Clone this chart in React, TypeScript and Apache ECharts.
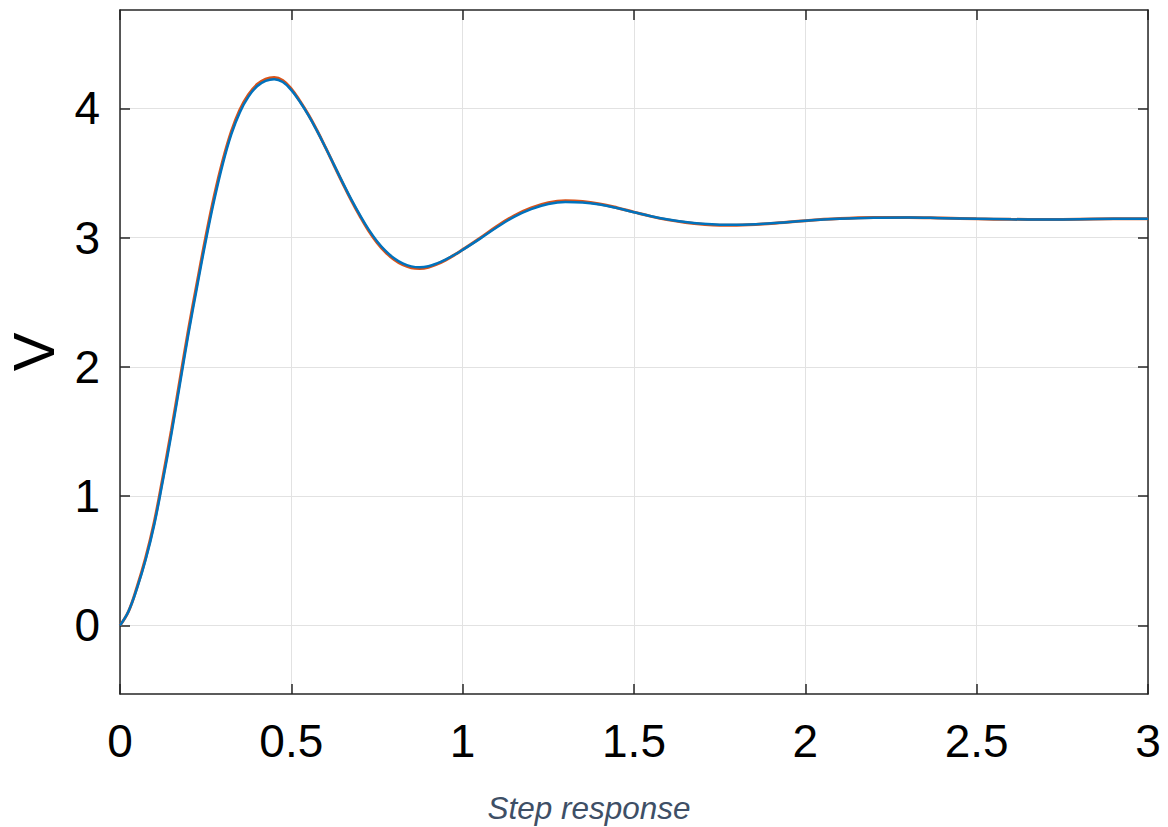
import React, { useEffect, useRef } from "react";
import * as echarts from "echarts";

const timeValues = [
  0, 0.025, 0.05, 0.075, 0.1, 0.125, 0.15, 0.175, 0.2, 0.225, 0.25, 0.275, 0.3,
  0.325, 0.35, 0.375, 0.4, 0.425, 0.45, 0.475, 0.5, 0.525, 0.55, 0.575, 0.6,
  0.625, 0.65, 0.675, 0.7, 0.725, 0.75, 0.775, 0.8, 0.825, 0.85, 0.875, 0.9,
  0.925, 0.95, 0.975, 1.0, 1.05, 1.1, 1.15, 1.2, 1.25, 1.3, 1.35, 1.4, 1.45,
  1.5, 1.55, 1.6, 1.65, 1.7, 1.75, 1.8, 1.9, 2.0, 2.1, 2.2, 2.3, 2.4, 2.5, 2.6,
  2.7, 2.8, 2.9, 3.0,
];

const blueValues = [
  0, 0.11, 0.29, 0.51, 0.78, 1.12, 1.48, 1.87, 2.26, 2.62, 2.97, 3.29, 3.57,
  3.8, 3.97, 4.09, 4.17, 4.212, 4.225, 4.203, 4.14, 4.05, 3.945, 3.825, 3.695,
  3.56, 3.425, 3.295, 3.175, 3.065, 2.972, 2.897, 2.84, 2.8, 2.777, 2.77, 2.778,
  2.8, 2.83, 2.865, 2.905, 2.99, 3.08, 3.16, 3.22, 3.26, 3.276, 3.272, 3.255,
  3.228, 3.196, 3.165, 3.14, 3.12, 3.107, 3.1, 3.099, 3.11, 3.13, 3.145, 3.153,
  3.155, 3.15, 3.145, 3.141, 3.14, 3.142, 3.145, 3.145,
];

const redValues = [
  0, 0.11, 0.3, 0.525, 0.8, 1.145, 1.51, 1.9, 2.29, 2.65, 3.0, 3.32, 3.595,
  3.82, 3.99, 4.105, 4.184, 4.226, 4.238, 4.215, 4.15, 4.056, 3.95, 3.828, 3.695,
  3.557, 3.42, 3.288, 3.166, 3.055, 2.962, 2.887, 2.83, 2.79, 2.767, 2.761, 2.77,
  2.794, 2.826, 2.864, 2.907, 2.995, 3.088, 3.169, 3.229, 3.269, 3.284, 3.279, 3.26,
  3.231, 3.197, 3.164, 3.137, 3.117, 3.103, 3.096, 3.096, 3.109, 3.131, 3.147, 3.155,
  3.156, 3.151, 3.145, 3.141, 3.14, 3.142, 3.145, 3.145,
];

const xTicks = [0, 0.5, 1, 1.5, 2, 2.5, 3];
const yTicks = [0, 1, 2, 3, 4];

const FONT = "'Liberation Sans', Arial, Helvetica, sans-serif";
const AXIS_COLOR = "#262626";

export default function App() {
  const ref = useRef<HTMLDivElement>(null);

  useEffect(() => {
    if (!ref.current) return;
    const chart = echarts.init(ref.current, undefined, { renderer: "svg" });

    const blueData = timeValues.map((t, i) => [t, blueValues[i]]);
    const redData = timeValues.map((t, i) => [t, redValues[i]]);

    const axisLine = {
      show: true,
      onZero: false,
      lineStyle: { color: AXIS_COLOR, width: 1.5 },
    };
    const axisTick = {
      show: true,
      inside: true,
      length: 10,
      lineStyle: { color: AXIS_COLOR, width: 1.5 },
    };
    const splitLine = {
      show: true,
      lineStyle: { color: "#e2e2e2", width: 1 },
    };

    chart.setOption({
      animation: false,
      backgroundColor: "#ffffff",
      grid: { left: 120, right: 20, top: 10, bottom: 133, containLabel: false },
      graphic: [
        {
          type: "text",
          x: 33,
          y: 352,
          rotation: Math.PI / 2,
          style: {
            text: "V",
            fontSize: 58,
            fontFamily: FONT,
            fill: "#000000",
            align: "center",
            verticalAlign: "middle",
          },
        },
        {
          type: "text",
          x: 589,
          y: 808,
          style: {
            text: "Step response",
            fontSize: 31.5,
            fontStyle: "italic",
            fontFamily: FONT,
            fill: "#3e4f66",
            align: "center",
            verticalAlign: "middle",
          },
        },
      ],
      xAxis: [
        {
          type: "value",
          position: "bottom",
          min: 0,
          max: 3,
          interval: 0.5,
          axisLine,
          axisTick: { ...axisTick, customValues: xTicks },
          axisLabel: {
            customValues: xTicks,
            fontSize: 46,
            color: "#000000",
            fontFamily: FONT,
            margin: 24,
          },
          splitLine,
        },
        {
          type: "value",
          position: "top",
          min: 0,
          max: 3,
          interval: 0.5,
          axisLine,
          axisTick: { ...axisTick, customValues: xTicks },
          axisLabel: { show: false },
          splitLine: { show: false },
        },
      ],
      yAxis: [
        {
          type: "value",
          position: "left",
          min: -0.53,
          max: 4.76,
          axisLine,
          axisTick: { ...axisTick, customValues: yTicks },
          axisLabel: {
            customValues: yTicks,
            fontSize: 46,
            color: "#000000",
            fontFamily: FONT,
            margin: 20,
          },
          splitLine,
        },
        {
          type: "value",
          position: "right",
          min: -0.53,
          max: 4.76,
          axisLine,
          axisTick: { ...axisTick, customValues: yTicks },
          axisLabel: { show: false },
          splitLine: { show: false },
        },
      ],
      series: [
        {
          name: "red",
          type: "line",
          data: redData,
          showSymbol: false,
          smooth: 0.4,
          lineStyle: { color: "#d95319", width: 3 },
          z: 2,
        },
        {
          name: "blue",
          type: "line",
          data: blueData,
          showSymbol: false,
          smooth: 0.4,
          lineStyle: { color: "#0072bd", width: 2.5 },
          z: 3,
        },
      ],
    });

    return () => chart.dispose();
  }, []);

  return (
    <div
      ref={ref}
      style={{ position: "fixed", left: 0, top: 0, width: 1168, height: 827, background: "#fff" }}
    />
  );
}
